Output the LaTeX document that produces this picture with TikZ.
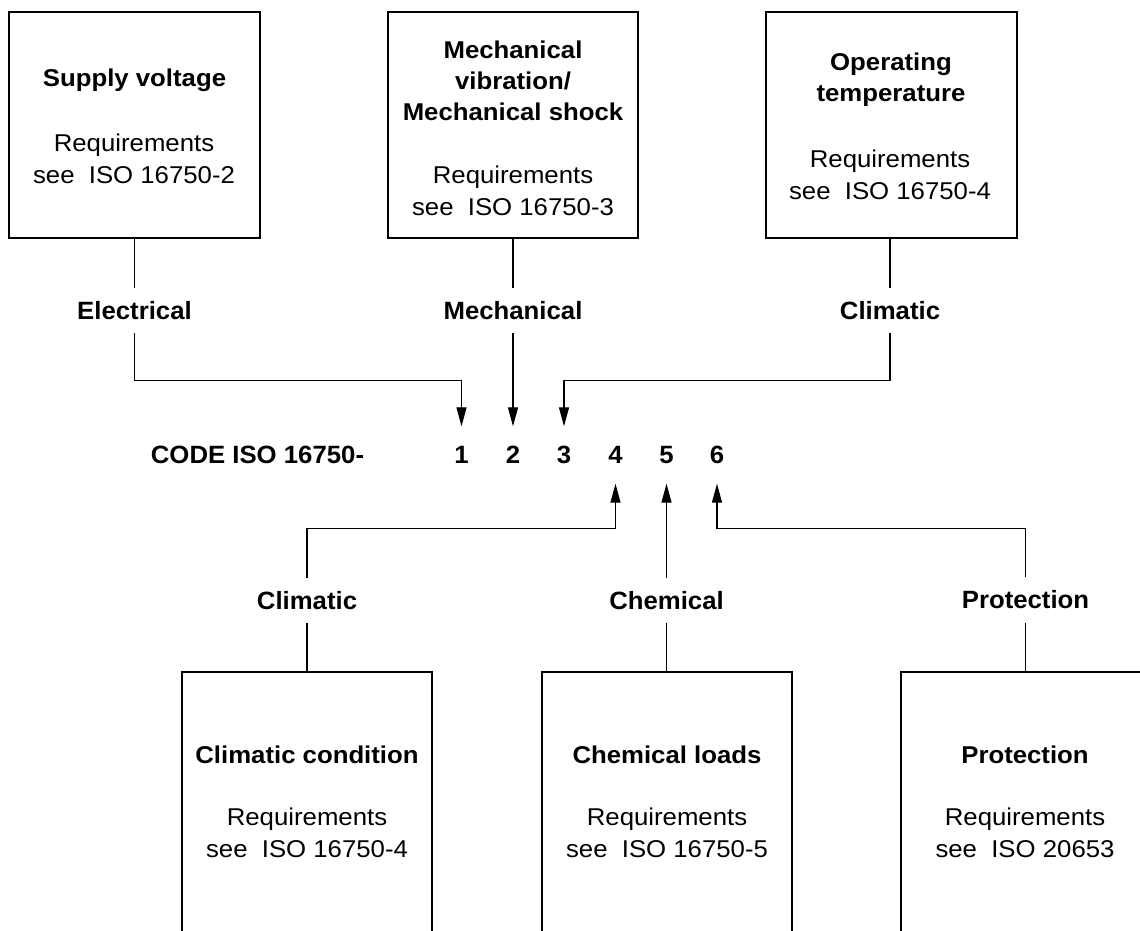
\documentclass[tikz,border=0pt]{standalone}
\usepackage{fontspec}
\setmainfont{Liberation Sans}
\newfontfamily\bxfont[FakeStretch=1.06]{Liberation Sans}
\newfontfamily\lbfont[FakeStretch=1.03]{Liberation Sans}
\usetikzlibrary{arrows.meta}
\begin{document}
\begin{tikzpicture}[x=1pt,y=1pt,
  box/.style={draw, line width=2pt, inner sep=0pt},
  conn/.style={line width=1.2pt},
  arr/.style={conn, -{Triangle[length=19pt,width=10pt]}},
  ttl/.style={font=\bxfont\bfseries\fontsize{24.3}{31}\selectfont, align=center, inner sep=0pt},
  bdy/.style={font=\bxfont\fontsize{24.3}{32}\selectfont, align=center, inner sep=0pt},
  lbl/.style={font=\lbfont\bfseries\fontsize{25}{28}\selectfont, inner sep=0pt, minimum height=45pt},
  num/.style={font=\lbfont\bfseries\fontsize{25}{28}\selectfont, inner sep=0pt, minimum height=57pt},
]
\clip (0,0) rectangle (1140,-930);
\fill[white] (0,0) rectangle (1140,-930);

% top boxes
\node[box, minimum width=251pt, minimum height=226pt] (b1) at (134.5,-125) {};
\node[box, minimum width=250pt, minimum height=226pt] (b2) at (513,-125) {};
\node[box, minimum width=251pt, minimum height=226pt] (b3) at (891.5,-125) {};

\node[ttl] (b1t) at (134.5,-80) {Supply voltage};
\node[bdy] (b1b) at (134,-159) {Requirements\\see\ \ ISO 16750-2};
\node[ttl] (b2t) at (513,-81) {Mechanical\\vibration/\\Mechanical shock};
\node[bdy] (b2b) at (513,-191) {Requirements\\see\ \ ISO 16750-3};
\node[ttl] (b3t) at (891,-80) {Operating\\temperature};
\node[bdy] (b3b) at (890,-175) {Requirements\\see\ \ ISO 16750-4};

% bottom boxes (open below)
\node[box, minimum width=250pt, minimum height=290pt, anchor=north] (c1) at (307,-671) {};
\node[box, minimum width=250pt, minimum height=290pt, anchor=north] (c2) at (667,-671) {};
\node[box, minimum width=250pt, minimum height=290pt, anchor=north] (c3) at (1026,-671) {};

\node[ttl] (c1t) at (307,-755) {Climatic condition};
\node[bdy] (c1b) at (307,-833) {Requirements\\see\ \ ISO 16750-4};
\node[ttl] (c2t) at (667,-755) {Chemical loads};
\node[bdy] (c2b) at (667,-833) {Requirements\\see\ \ ISO 16750-5};
\node[ttl] (c3t) at (1025,-755) {Protection};
\node[bdy] (c3b) at (1025,-833) {Requirements\\see\ \ ISO 20653};

% labels
\node[lbl] (le) at (134.5,-310.5) {Electrical};
\node[lbl] (lm) at (513,-310.5) {Mechanical};
\node[lbl] (lc) at (890,-310.5) {Climatic};
\node[lbl] (lc2) at (307,-600.5) {Climatic};
\node[lbl] (lch) at (666.5,-600.5) {Chemical};
\node[lbl] (lp) at (1025.5,-600) {Protection};

% code line
\node[font=\lbfont\bfseries\fontsize{25}{28}\selectfont, inner sep=0pt] (code) at (257.5,-455) {CODE ISO 16750-};
\node[num] (n1) at (461.5,-455) {1};
\node[num] (n2) at (513,-455) {2};
\node[num] (n3) at (564,-455) {3};
\node[num] (n4) at (615.5,-455) {4};
\node[num] (n5) at (666.5,-455) {5};
\node[num] (n6) at (717,-455) {6};

% connectors top
\draw[conn] (b1.south) -- (le.north);
\draw[conn] (b2.south) -- (lm.north);
\draw[conn] (b3.south -| lc.north) -- (lc.north);
\draw[arr] (le.south) -- ++(0,-47) -| (n1.north);
\draw[arr] (lm.south) -- (n2.north);
\draw[arr] (lc.south) -- ++(0,-47) -| (n3.north);

% connectors bottom
\draw[conn] (c1.north) -- (lc2.south);
\draw[conn] (c2.north -| lch.south) -- (lch.south);
\draw[conn] (c3.north -| lp.south) -- (lp.south);
\draw[arr] (lc2.north) -- ++(0,49) -| (n4.south);
\draw[arr] (lch.north) -- (n5.south);
\draw[arr] (lp.north) -- ++(0,49) -| (n6.south);
\end{tikzpicture}
\end{document}
